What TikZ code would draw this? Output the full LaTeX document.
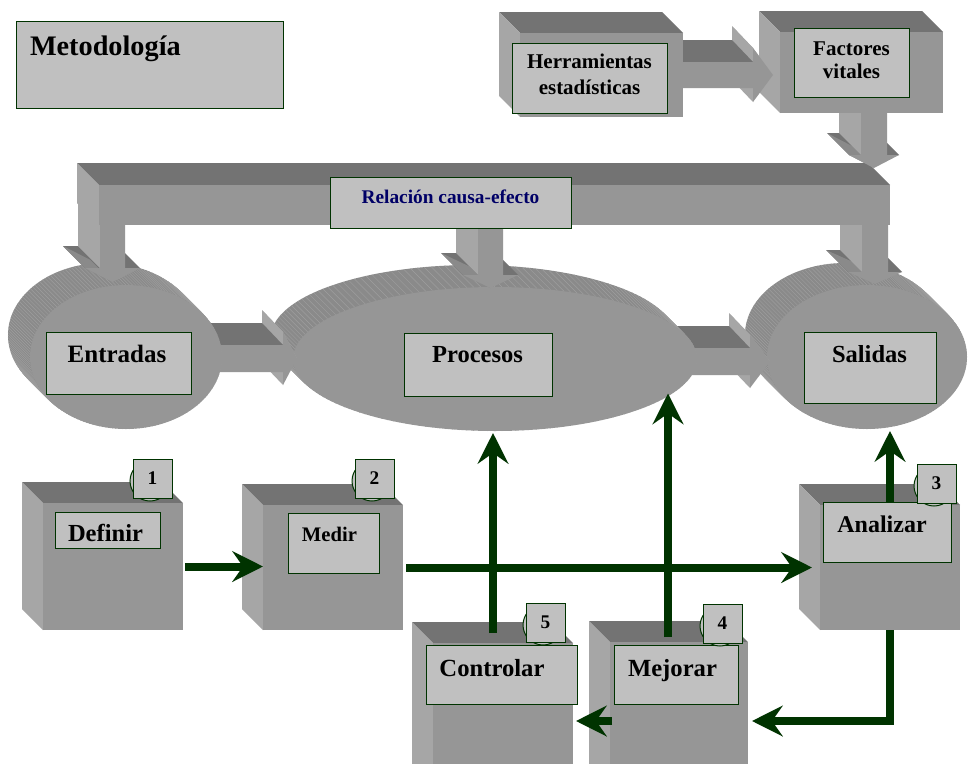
\documentclass[tikz,border=0pt]{standalone}
\usepackage{fontspec}
\setmainfont{Liberation Serif}
\usetikzlibrary{arrows.meta,calc,shapes.geometric}
\definecolor{topc}{HTML}{737373}
\definecolor{frontc}{HTML}{969696}
\definecolor{sidec}{HTML}{A6A6A6}
\definecolor{midc}{HTML}{8A8A8A}
\definecolor{cylc}{HTML}{8A8A8A}
\definecolor{cyll}{HTML}{9E9E9E}
\definecolor{labc}{HTML}{C0C0C0}
\definecolor{dgreen}{HTML}{003300}
\definecolor{navyt}{HTML}{000066}
\newcommand\fs[2]{\fontsize{#1}{#2}\selectfont\bfseries}
% label box: name x1 y1 x2 y2
\newcommand\mylab[5]{%
  \node[lab, anchor=north west, minimum width={(#4-#2)*0.75pt}, minimum height={(#5-#3)*0.75pt}] (#1) at (#2,#3) {};}
% cube: name x1 y1 x2 y2 (front face)
\newcommand\mycube[5]{%
  \fill[topc] (#2,#3) -- (#4,#3) -- (#4-21,#3-21) -- (#2-21,#3-21) -- cycle;
  \fill[sidec] (#2,#3) -- (#2,#5) -- (#2-21,#5-21) -- (#2-21,#3-21) -- cycle;
  \node[frontbox, anchor=north west, minimum width={(#4-#2)*0.75pt}, minimum height={(#5-#3)*0.75pt}] (#1) at (#2,#3) {};}
% cylinder: name cx cy rx ry
\newcommand\mycyl[5]{%
  \foreach \k in {22,21,...,1}{\fill[cylc] (#2-\k,#3-\k) ellipse [x radius=#4, y radius=#5];}
  \foreach \a in {0,2,...,358}{\draw[cyll, line width=0.35pt] ($(#2,#3)+(\a:#4 and #5)$) -- ++(-22,-22);}
  \node[ellipse, fill=frontc, inner sep=0pt, outer sep=0pt, minimum width={2*#4*0.75pt}, minimum height={2*#5*0.75pt}] (#1) at (#2,#3) {};}
% down block arrow: xa xb y0 yh yt e
\newcommand\mydarr[6]{%
  \pgfmathsetmacro\xmid{(#1+#2)/2}
  \fill[topc] (#1-#6,#4) -- (#2+#6,#4) -- (#2+#6-22,#4-22) -- (#1-#6-22,#4-22) -- cycle;
  \fill[midc] (#1-#6,#4) -- (\xmid,#5) -- (\xmid-22,#5-22) -- (#1-#6-22,#4-22) -- cycle;
  \fill[sidec] (#1,#3) -- (#1,#4) -- (#1-22,#4-22) -- (#1-22,#3-22) -- cycle;
  \fill[frontc] (#1,#3) -- (#2,#3) -- (#2,#4) -- (#2+#6,#4) -- (\xmid,#5) -- (#1-#6,#4) -- (#1,#4) -- cycle;}
% right block arrow: x0 xh xt ym s h
\newcommand\myrarr[6]{%
  \fill[sidec] (#2,#4-#6) -- (#2,#4+#6) -- (#2-21,#4+#6-22) -- (#2-21,#4-#6-22) -- cycle;
  \fill[sidec] (#2,#4-#6) -- (#3,#4) -- (#3-21,#4-22) -- (#2-21,#4-#6-22) -- cycle;
  \fill[topc] (#1,#4-#5) -- (#2,#4-#5) -- (#2-21,#4-#5-22) -- (#1-21,#4-#5-22) -- cycle;
  \fill[frontc] (#1,#4-#5) -- (#2,#4-#5) -- (#2,#4-#6) -- (#3,#4) -- (#2,#4+#6) -- (#2,#4+#5) -- (#1,#4+#5) -- cycle;}
% number badge: name x1 y1 digit
\newcommand\mynum[4]{%
  \filldraw[fill=labc, draw=dgreen, line width=0.75pt] (#2+17,#3+22) circle [radius=20];
  \node[lab, anchor=north west, minimum width=29.25pt, minimum height=29.25pt] (#1) at (#2,#3) {};
  \node[txt, font={\fs{14.5}{16}}] (#1t) at (#1.center) {#4};}
\begin{document}
\begin{tikzpicture}[x=0.75pt,y=-0.75pt,
  lab/.style={draw=dgreen, fill=labc, line width=0.75pt, inner sep=0pt, outer sep=0pt},
  frontbox/.style={fill=frontc, draw=none, inner sep=0pt, outer sep=0pt},
  txt/.style={inner sep=0pt, outer sep=0pt, text=black},
  garrow/.style={draw=dgreen, line width=6pt, -{Stealth[length=23pt, width=23pt, inset=8pt]}}]
\path[use as bounding box] (0,0) rectangle (975,764);
\clip (0,0) rectangle (975,764);
\fill[white] (0,0) rectangle (975,764);

% Metodologia
\mylab{met}{16}{21}{283}{108}
\node[txt, anchor=base west, font={\fs{21.2}{24}}] (tmet) at (30,55) {Metodología};

% cylinders and horizontal block arrows
\mycyl{salF}{867}{357}{100}{72}
\myrarr{680}{750}{770}{361.5}{13.5}{26.5}
\mycyl{procF}{495}{359}{202}{72}
\myrarr{200}{283}{297}{358.5}{13.5}{26.5}
\mycyl{entF}{126}{357}{96}{72}

% down arrows from the bar
\mydarr{100}{125}{224}{268}{282}{15}
\mydarr{478}{503}{226}{275}{288}{15}
\mydarr{862}{888}{224}{272}{284}{14}

% bar
\fill[topc] (99,185) -- (890,185) -- (868,163) -- (77,163) -- cycle;
\fill[sidec] (99,185) -- (99,225) -- (77,203) -- (77,163) -- cycle;
\node[frontbox, anchor=north west, minimum width={791*0.75pt}, minimum height={40*0.75pt}] (bar) at (99,185) {};
\mylab{rel}{330}{177}{571}{228}
\node[txt, anchor=base, text=navyt, font={\fs{14.5}{17}}] (trel) at (450.5,203) {Relación causa-efecto};

% Factores down arrow, top cubes, arrow between them
\mydarr{861}{887}{113}{155}{168}{12}
\mycube{fac}{780}{32}{943}{113}
\myrarr{670}{753}{773}{75}{13}{27}
\mycube{her}{520}{33}{683}{117}
\mylab{herlab}{512}{43}{667}{113}
\node[txt, align=center, font={\fs{15.75}{19.5}}] (ther) at (589.5,74) {Herramientas\\estadísticas};
\mylab{faclab}{794}{28}{909}{97}
\node[txt, align=center, font={\fs{15.75}{17.25}}] (tfac) at (851.5,60) {Factores\\vitales};

% cylinder labels
\mylab{entlab}{46}{332}{191}{394}
\node[txt, anchor=base, font={\fs{18.75}{22}}] (tent) at (117,362) {Entradas};
\mylab{proclab}{404}{333}{552}{396}
\node[txt, anchor=base, font={\fs{18.4}{22}}] (tproc) at (477.5,362) {Procesos};
\mylab{sallab}{804}{332}{936}{403}
\node[txt, anchor=base, font={\fs{18.4}{22}}] (tsal) at (869.5,362) {Salidas};

% lower cubes
\mycube{def}{43}{503}{183}{630}
\mycube{med}{263}{505}{403}{630}
\mycube{ana}{820}{505}{960}{630}
\mycube{con}{433}{643}{573}{790}
\mycube{mej}{610}{642}{748}{790}
\mylab{deflab}{55}{512}{160}{548}
\node[txt, anchor=base, font={\fs{18.4}{22}}] (tdef) at (105.5,541) {Definir};
\mylab{medlab}{288}{513}{379}{573}
\node[txt, anchor=base, font={\fs{15.5}{18}}] (tmed) at (329.5,541) {Medir};
\mylab{analab}{823}{502}{951}{562}
\node[txt, anchor=base, font={\fs{18}{22}}] (tana) at (882,532) {Analizar};
\mylab{conlab}{426}{645}{577}{704}
\node[txt, anchor=base, font={\fs{18.5}{22}}] (tcon) at (492,676) {Controlar};
\mylab{mejlab}{614}{645}{738}{704}
\node[txt, anchor=base, font={\fs{18.5}{22}}] (tmej) at (672.5,676) {Mejorar};
\mynum{n1}{133}{459}{1}
\mynum{n2}{355}{459}{2}
\mynum{n3}{917}{464}{3}
\mynum{n4}{703}{604}{4}
\mynum{n5}{526}{603}{5}

% green connectors
\draw[garrow] ($(def.east)+(2,0)$) -- (def.east -| med.west);
\draw[garrow] ($(med.east)+(3,0)$) -- ($(med.east -| ana.west)+(-8,0)$);
\coordinate (a3) at ($(analab.north)+(3,0)$);
\draw[garrow] (a3) -- ($(a3 |- salF.south)+(0,2)$);
\draw[garrow] (ana.south) |- ($(mej.east)+(4,5)$);
\draw[garrow] ($(mej.west)+(2,5)$) -- ($(con.east |- mej.west)+(3,5)$);
\coordinate (a4) at ($(mejlab.north)+(-8,-8)$);
\draw[garrow] (a4) -- (a4 |- procF.-11);
\coordinate (a5) at ($(conlab.north)+(-8.5,-12)$);
\draw[garrow] (a5) -- ($(a5 |- procF.south)+(0,2)$);
\end{tikzpicture}
\end{document}
